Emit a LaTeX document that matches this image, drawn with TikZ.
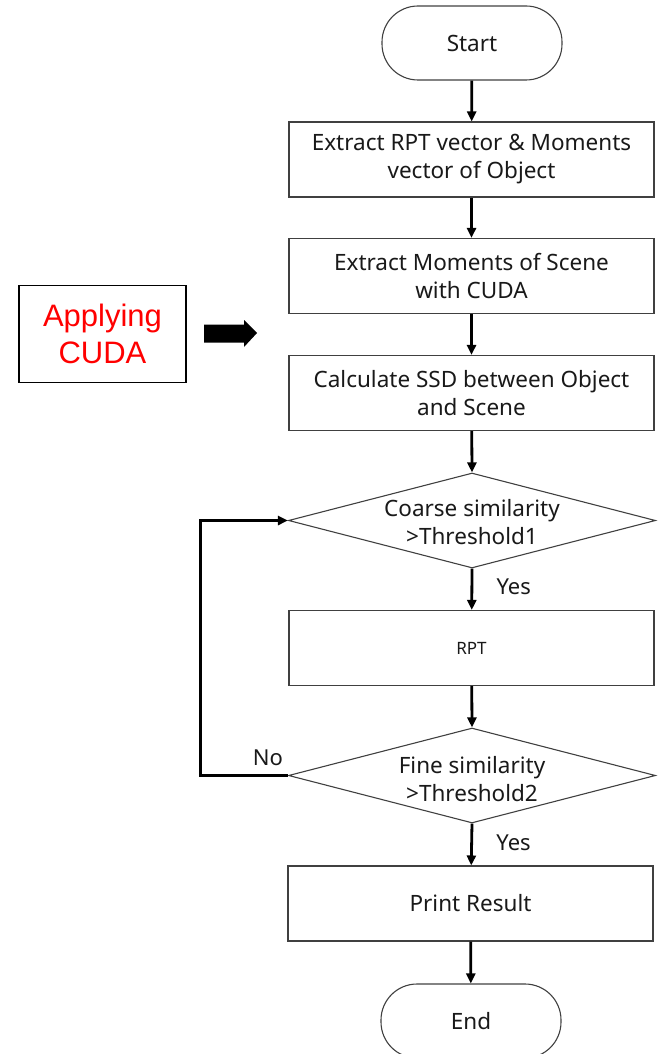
\documentclass[tikz,border=0pt]{standalone}
\usepackage{fontspec}
\setmainfont{Noto Sans}
\newfontfamily\arialfont{Liberation Sans}
\usetikzlibrary{arrows.meta,shapes.geometric}
\begin{document}
\begin{tikzpicture}[x=1pt,y=-1pt,
  txt/.style={font=\fontsize{22.5}{28}\selectfont, align=center, text=black!90},
  procbox/.style={draw=black!75, line width=1.1pt, minimum width=365pt, minimum height=75pt, inner sep=0pt, txt},
  pill/.style={draw=black!75, line width=1.1pt, rounded corners=36pt, minimum width=180pt, minimum height=74pt, inner sep=0pt, txt},
  dia/.style={draw=black!75, line width=1.1pt, diamond, shape aspect=3.86, minimum width=367pt, minimum height=95pt, inner sep=0pt},
  flow/.style={line width=2.8pt, -{Triangle[length=10pt,width=9pt]}},
  lbl/.style={font=\fontsize{22}{26}\selectfont, text=black!90}
]
\useasboundingbox (0,0) rectangle (658,1054);
\begin{scope}
\clip (0,0) rectangle (658,1054);
\node[pill] (start) at (472,43) {Start};
\node[procbox] (b1) at (471.5,159.5) {Extract RPT vector \& Moments\\vector of Object};
\node[procbox] (b2) at (471.5,276) {Extract Moments of Scene\\with CUDA};
\node[procbox] (b3) at (471.5,393) {Calculate SSD between Object\\and Scene};
\node[dia] (d1) at (472,520.5) {};
\node[txt] (d1t) at (472,522) {Coarse similarity\\>Threshold1};
\node[procbox, font=\fontsize{17}{20}\selectfont] (rpt) at (471.5,648) {RPT};
\node[dia] (d2) at (472,775.5) {};
\node[txt] (d2t) at (472,779) {Fine similarity\\>Threshold2};
\node[procbox] (pr) at (470.5,903.5) {Print Result};
\node[pill] (end) at (471,1021) {End};
\end{scope}

\draw[flow] (start) -- (b1);
\draw[flow] (b1) -- (b2);
\draw[flow] (b2) -- (b3);
\draw[flow] (b3) -- (d1.north);
\draw[flow] (d1.south) -- (rpt) node[lbl, pos=0.45, right=20pt] (y1) {Yes};
\draw[flow] (rpt) -- (d2.north);
\draw[flow] (d2.south) -- (pr) node[lbl, pos=0.45, right=20pt] (y2) {Yes};
\draw[flow] (pr) -- (end);
\coordinate (lb) at (200,775.5);
\coordinate (lt) at (200,520.5);
\draw[flow, line width=3pt] (d2.west) -- (lb) -- (lt) -- (d1.west);
\node[lbl] (no) at (268,758) {No};

\node[draw=black, line width=1.3pt, minimum width=167pt, minimum height=97pt, inner sep=0pt, align=center, text=red, font=\arialfont\fontsize{31}{37}\selectfont] (cuda) at (102.5,334) {Applying\\CUDA};
\fill (204,324.5) -- (244,324.5) -- (244,320) -- (257,333) -- (244,347) -- (244,342.5) -- (204,342.5) -- cycle;
\end{tikzpicture}
\end{document}
